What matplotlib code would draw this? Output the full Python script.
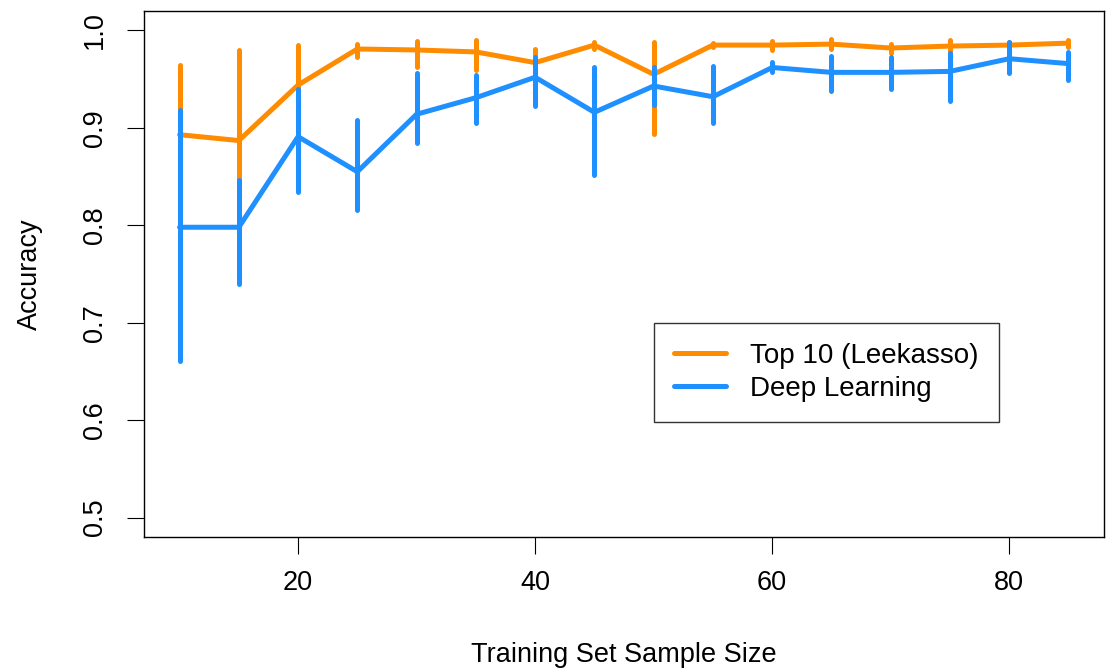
import numpy as np
import matplotlib
matplotlib.use('Agg')
import matplotlib.pyplot as plt

# Sample sizes
sizes = [10, 15, 20, 25, 30, 35, 40, 45, 50, 55, 60, 65, 70, 75, 80, 85]

# Top 10 (Leekasso): mean, lower, upper
leek_mean = [0.893, 0.887, 0.944, 0.981, 0.980, 0.978, 0.967, 0.985, 0.955, 0.985,
             0.985, 0.986, 0.982, 0.984, 0.985, 0.987]
leek_low = [0.821, 0.794, 0.903, 0.973, 0.963, 0.959, 0.953, 0.981, 0.894, 0.983,
            0.980, 0.981, 0.977, 0.978, 0.981, 0.983]
leek_high = [0.965, 0.980, 0.985, 0.986, 0.989, 0.990, 0.981, 0.988, 0.988, 0.987,
             0.989, 0.991, 0.986, 0.990, 0.988, 0.990]

# Deep Learning: mean, lower, upper
deep_mean = [0.798, 0.798, 0.891, 0.855, 0.914, 0.931, 0.952, 0.916, 0.943, 0.932,
             0.962, 0.957, 0.957, 0.958, 0.971, 0.966]
deep_low = [0.661, 0.740, 0.834, 0.816, 0.884, 0.905, 0.922, 0.852, 0.923, 0.905,
            0.957, 0.938, 0.940, 0.928, 0.956, 0.949]
deep_high = [0.918, 0.847, 0.940, 0.908, 0.956, 0.954, 0.973, 0.963, 0.962, 0.964,
             0.968, 0.974, 0.973, 0.977, 0.988, 0.978]

plt.rcParams['font.family'] = ['Liberation Sans', 'DejaVu Sans']
fs = 19.5
orange = '#FF8C00'
blue = '#1E90FF'
lw = 3.6

fig = plt.figure(figsize=(11.08, 6.68), dpi=100)
ax = fig.add_axes([144 / 1108, 131 / 668, 960 / 1108, 526 / 668])

ax.plot(sizes, leek_mean, color=orange, lw=lw, solid_capstyle='round',
        solid_joinstyle='round', label='Top 10 (Leekasso)', zorder=2)
ax.vlines(sizes, leek_low, leek_high, color=orange, lw=lw, capstyle='round', zorder=2)
ax.plot(sizes, deep_mean, color=blue, lw=lw, solid_capstyle='round',
        solid_joinstyle='round', label='Deep Learning', zorder=3)
ax.vlines(sizes, deep_low, deep_high, color=blue, lw=lw, capstyle='round', zorder=3)

ax.set_xlim(7, 88)
ax.set_ylim(0.48, 1.02)
ax.set_xticks([20, 40, 60, 80])
ax.set_yticks([0.5, 0.6, 0.7, 0.8, 0.9, 1.0])
ax.set_yticklabels(['0.5', '0.6', '0.7', '0.8', '0.9', '1.0'], rotation=90, va='center')
ax.tick_params(length=12, width=0.8, labelsize=fs, color='black')
ax.tick_params(axis='x', pad=12)
ax.tick_params(axis='y', pad=14)
for s in ax.spines.values():
    s.set_linewidth(1.0)

ax.set_xlabel('Training Set Sample Size', fontsize=fs, va='center')
ax.xaxis.set_label_coords(0.5, -0.2243)
ax.set_ylabel('Accuracy', fontsize=fs, va='center')
ax.yaxis.set_label_coords(-0.11875, 0.5)

leg = ax.legend(loc='upper left', bbox_to_anchor=(50, 0.7), bbox_transform=ax.transData,
                borderaxespad=0, fontsize=20, frameon=True, fancybox=False,
                handlelength=1.9, handletextpad=0.85, labelspacing=0.25,
                borderpad=0.72)
leg.get_frame().set_edgecolor('black')
leg.get_frame().set_linewidth(1.0)

fig.savefig('out.png', dpi=100)
